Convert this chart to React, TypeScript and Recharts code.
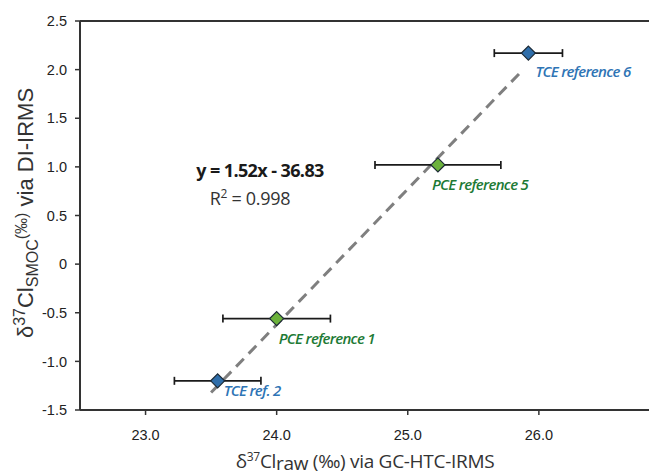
import { ScatterChart, Scatter, XAxis, YAxis, ErrorBar, ReferenceLine, Customized } from 'recharts';

const samples = ['TCE reference 6', 'PCE reference 5', 'PCE reference 1', 'TCE ref. 2'];
const compounds = ['TCE', 'PCE', 'PCE', 'TCE'];
const rawValues = [25.92, 25.23, 24.0, 23.55];
const smocValues = [2.17, 1.02, -0.56, -1.2];
const rawErrors = [0.26, 0.48, 0.41, 0.33];
const smocErrors = [0.03, 0.03, 0.03, 0.02];
const xTicks = [23, 24, 25, 26];
const yTicks = [-1.5, -1.0, -0.5, 0, 0.5, 1.0, 1.5, 2.0, 2.5];
const fitStart = { x: 23.5, y: -1.32 };
const fitEnd = { x: 25.88, y: 2.0 };

const data = samples.map((name, i) => ({
  name,
  compound: compounds[i],
  x: rawValues[i],
  y: smocValues[i],
  xErr: rawErrors[i],
  yErr: smocErrors[i],
}));

const fillColors: Record<string, string> = { TCE: '#2f6eaa', PCE: '#6cb23c' };
const textColors: Record<string, string> = { TCE: '#2e74b5', PCE: '#1d7a35' };
// where each name sits relative to its diamond
const labelOffsets: Record<string, [number, number]> = {
  'TCE reference 6': [7, 24],
  'PCE reference 5': [-6, 25],
  'PCE reference 1': [2, 25],
  'TCE ref. 2': [6, 15],
};

const Diamond = (props: any) => {
  const { cx, cy, payload } = props;
  const r = 7;
  const [dx, dy] = labelOffsets[payload.name];
  return (
    <g>
      <polygon
        points={`${cx},${cy - r} ${cx + r},${cy} ${cx},${cy + r} ${cx - r},${cy}`}
        fill={fillColors[payload.compound]}
        stroke="#1c2a36"
        strokeWidth={1.2}
      />
      <text
        x={cx + dx}
        y={cy + dy}
        fill={textColors[payload.compound]}
        fontFamily="Open Sans"
        fontStyle="italic"
        fontWeight={600}
        fontSize={15}
        letterSpacing={-0.7}
      >
        {payload.name}
      </text>
    </g>
  );
};

const fmtY = (v: number) => (v === 0 ? '0' : v.toFixed(1));

const Annotations = () => (
  <g fill="#1a1a1a">
    <text x={260} y={177} textAnchor="middle" fontFamily="Open Sans" fontWeight={700} fontSize={18} letterSpacing={-0.6}>
      y = 1.52x - 36.83
    </text>
    <text x={250} y={205} textAnchor="middle" fontFamily="Open Sans" fontSize={18} letterSpacing={-0.3} fill="#333">
      R<tspan dy={-7} fontSize={12}>2</tspan>
      <tspan dy={7}> = 0.998</tspan>
    </text>
    <text x={365} y={468} textAnchor="middle" fontFamily="Open Sans" fontSize={19} letterSpacing={-0.3} fill="#333">
      δ<tspan dy={-7} fontSize={12}>37</tspan>
      <tspan dy={7}>Cl</tspan>
      <tspan dy={2}>raw</tspan>
      <tspan dy={-2}> (‰) via GC-HTC-IRMS</tspan>
    </text>
    <text
      x={0}
      y={0}
      transform="translate(33,213) rotate(-90)"
      textAnchor="middle"
      fontFamily="Liberation Sans"
      fontSize={22}
      fill="#333"
    >
      δ<tspan dy={-8} fontSize={16}>37</tspan>
      <tspan dy={8}>Cl</tspan>
      <tspan dy={5} fontSize={16}>SMOC</tspan>
      <tspan dy={-11} fontSize={16}>(‰)</tspan>
      <tspan dy={6}> via DI-IRMS</tspan>
    </text>
  </g>
);

export default function App() {
  return (
    <div style={{ position: 'fixed', left: 0, top: 0, width: 649, height: 475, background: '#fff' }}>
      <ScatterChart width={649} height={475} margin={{ top: 21, right: 0, bottom: 35, left: 0 }}>
        <XAxis
          type="number"
          dataKey="x"
          domain={[22.5, 26.84]}
          allowDataOverflow
          ticks={xTicks}
          tickFormatter={(v: number) => v.toFixed(1)}
          height={30}
          tickSize={5}
          tickMargin={15}
          axisLine={{ stroke: '#333', strokeWidth: 2 }}
          tickLine={{ stroke: '#333', strokeWidth: 1.5 }}
          tick={{ fill: '#222', fontSize: 14.5, fontFamily: 'Liberation Sans' }}
        />
        <YAxis
          type="number"
          dataKey="y"
          domain={[-1.5, 2.5]}
          allowDataOverflow
          ticks={yTicks}
          tickFormatter={fmtY}
          width={80}
          tickSize={5}
          tickMargin={8}
          axisLine={{ stroke: '#333', strokeWidth: 2 }}
          tickLine={{ stroke: '#333', strokeWidth: 1.5 }}
          tick={{ fill: '#222', fontSize: 14.5, fontFamily: 'Liberation Sans' }}
        />
        <ReferenceLine y={2.5} stroke="#333" strokeWidth={2} />
        <ReferenceLine
          segment={[fitStart, fitEnd]}
          stroke="#7f7f7f"
          strokeWidth={3}
          strokeDasharray="11 7"
        />
        <Scatter data={data} shape={Diamond} isAnimationActive={false} />
        <Scatter data={data} shape={() => <g />} isAnimationActive={false}>
          <ErrorBar dataKey="xErr" direction="x" width={4} stroke="#1a1a1a" strokeWidth={1.7} />
          <ErrorBar dataKey="yErr" direction="y" width={2.5} stroke="#1a1a1a" strokeWidth={1.5} />
        </Scatter>
        <Customized component={Annotations} />
      </ScatterChart>
    </div>
  );
}
